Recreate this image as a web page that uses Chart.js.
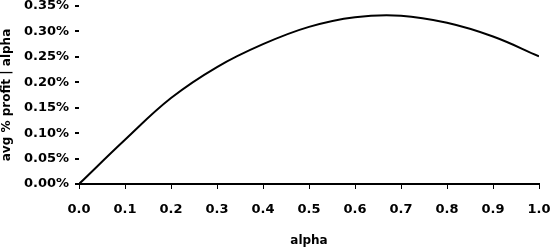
<!DOCTYPE html>
<html lang="en">
<head>
  <meta charset="UTF-8" />
  <title>avg % profit | alpha</title>
  <script src="https://cdn.jsdelivr.net/npm/chart.js@4.4.0/dist/chart.umd.min.js"></script>
  <style>
    body {
      margin: 0;
      background: white;
    }
    .box {
      width: 550px;
      height: 248px;
      position: relative;
    }
  </style>
</head>
<body>
  <div class="box">
    <canvas id="profitChart"></canvas>
  </div>

  <script>
    // values (profit in %)
    const alphaValues = [0.0, 0.1, 0.2, 0.3, 0.4, 0.5, 0.6, 0.7, 0.8, 0.9, 1.0];
    const profitValues = [0.000, 0.087, 0.169, 0.230, 0.275, 0.309, 0.328, 0.331, 0.317, 0.290, 0.251];
    const xTitle = 'alpha';
    const yTitle = 'avg % profit | alpha';

    const points = alphaValues.map((a, i) => ({ x: a, y: profitValues[i] }));

    const tickFont = { family: 'DejaVu Sans', size: 13, weight: 'bold' };
    const titleFont = { family: 'DejaVu Sans', size: 12, weight: 'bold' };

    new Chart(document.getElementById('profitChart'), {
      type: 'line',
      data: {
        datasets: [{
          data: points,
          borderColor: '#000',
          borderWidth: 2,
          pointRadius: 0,
          fill: false,
          tension: 0.4
        }]
      },
      options: {
        responsive: true,
        maintainAspectRatio: false,
        animation: false,
        layout: { padding: { left: 0, right: 11, top: 6, bottom: 0 } },
        plugins: {
          legend: { display: false },
          tooltip: { enabled: false }
        },
        scales: {
          x: {
            type: 'linear',
            min: 0,
            max: 1,
            afterFit: s => { s.height = 64; s.paddingLeft = 0; s.paddingRight = 0; },
            border: { display: true, color: '#000', width: 2 },
            grid: { drawOnChartArea: false, drawTicks: true, tickLength: 5, color: '#000' },
            ticks: {
              stepSize: 0.1,
              autoSkip: false,
              maxRotation: 0,
              padding: 13,
              color: '#000',
              font: tickFont,
              callback: v => v.toFixed(1)
            },
            title: { display: true, text: xTitle, color: '#000', font: titleFont, padding: 0 }
          },
          y: {
            min: 0,
            max: 0.35,
            afterFit: s => { s.width = 79; s.paddingTop = 0; s.paddingBottom = 0; },
            border: { display: false },
            grid: { drawOnChartArea: false, drawTicks: true, tickLength: 4, color: '#000', lineWidth: 2 },
            ticks: {
              stepSize: 0.05,
              padding: 6,
              color: '#000',
              font: tickFont,
              callback: v => v.toFixed(2) + '%'
            },
            title: { display: true, text: yTitle, color: '#000', font: titleFont, padding: 0 }
          }
        }
      }
    });
  </script>
</body>
</html>
